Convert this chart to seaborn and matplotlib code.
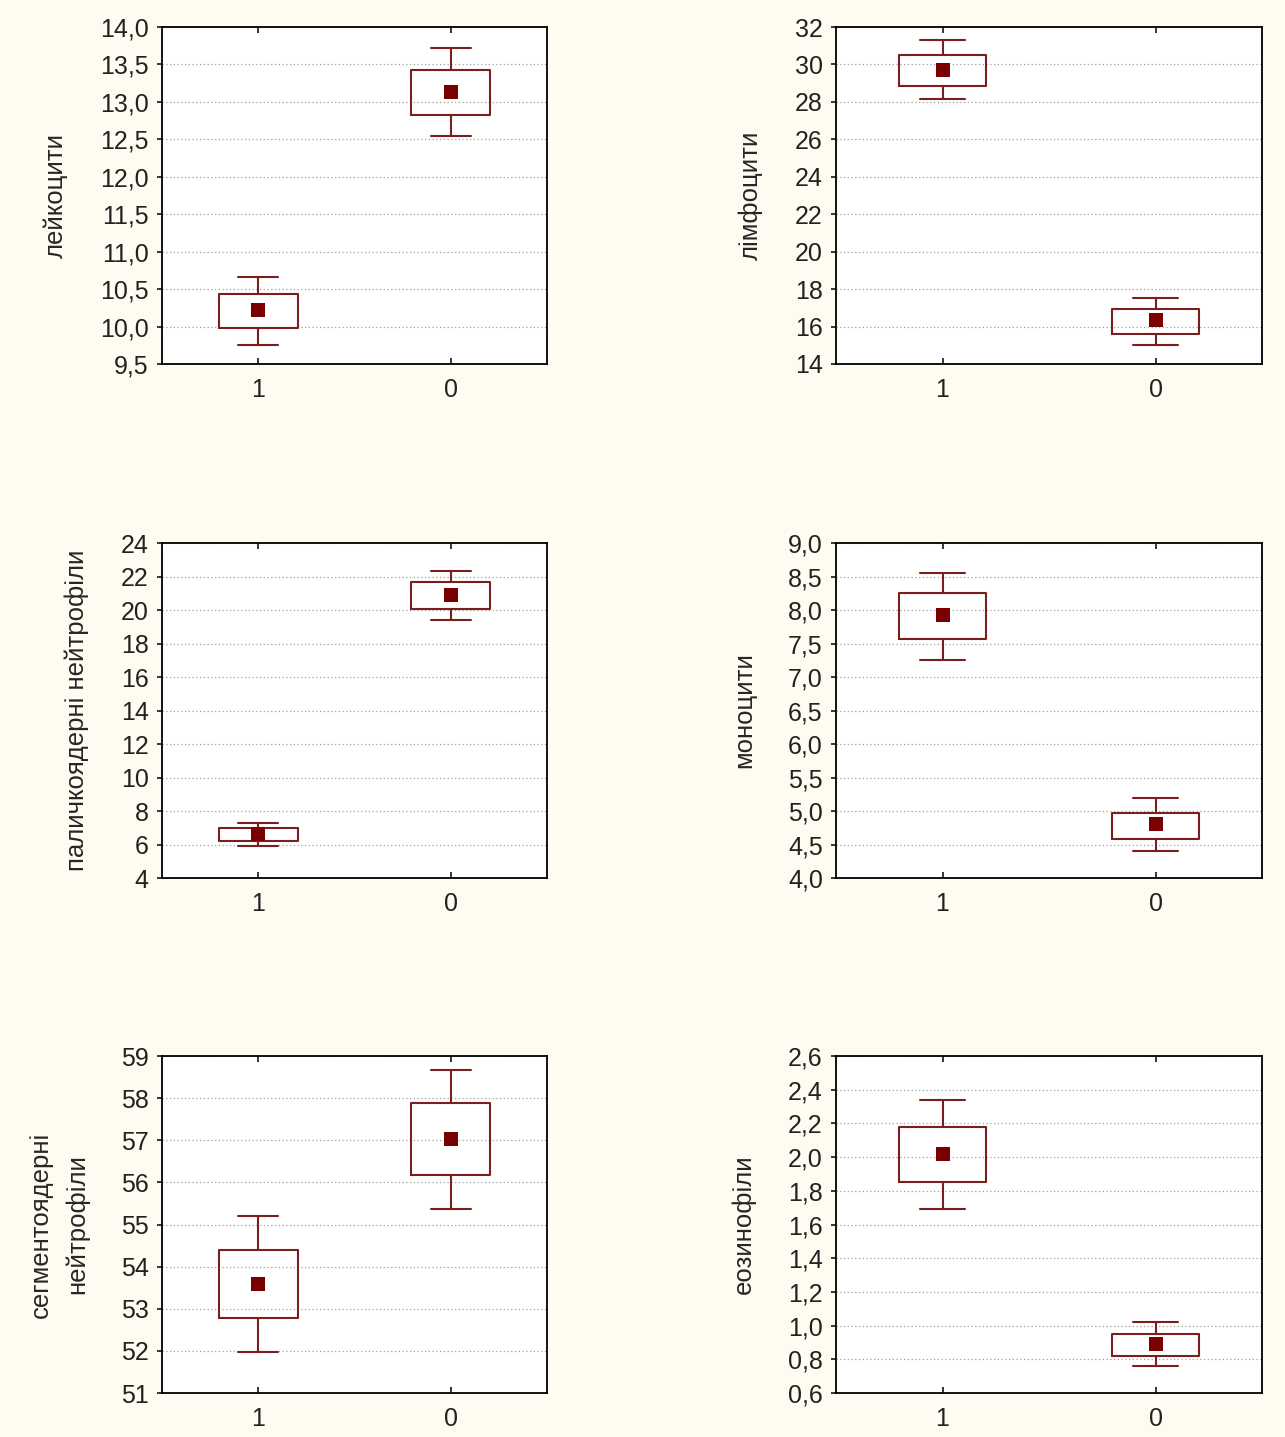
import matplotlib
matplotlib.use("Agg")
import matplotlib.pyplot as plt
from matplotlib.ticker import FixedLocator, FixedFormatter
import pandas as pd
import seaborn as sns

# ---- data: mean, mean±SE (box), mean±1.96·SE (whiskers) for groups "1" and "0" ----
groups = ["1", "0"]

leu_label = "лейкоцити"
leu_mean = [10.22, 13.13]
leu_box_lo = [9.98, 12.82]
leu_box_hi = [10.43, 13.42]
leu_whis_lo = [9.75, 12.54]
leu_whis_hi = [10.66, 13.72]
leu_ticks = [9.5, 10.0, 10.5, 11.0, 11.5, 12.0, 12.5, 13.0, 13.5, 14.0]
leu_ticklabels = ["9,5", "10,0", "10,5", "11,0", "11,5", "12,0", "12,5", "13,0", "13,5", "14,0"]

lym_label = "лімфоцити"
lym_mean = [29.70, 16.35]
lym_box_lo = [28.87, 15.62]
lym_box_hi = [30.49, 16.92]
lym_whis_lo = [28.17, 15.01]
lym_whis_hi = [31.29, 17.52]
lym_ticks = [14, 16, 18, 20, 22, 24, 26, 28, 30, 32]
lym_ticklabels = ["14", "16", "18", "20", "22", "24", "26", "28", "30", "32"]

band_label = "паличкоядерні нейтрофіли"
band_mean = [6.61, 20.91]
band_box_lo = [6.23, 20.06]
band_box_hi = [6.97, 21.67]
band_whis_lo = [5.93, 19.42]
band_whis_hi = [7.26, 22.33]
band_ticks = [4, 6, 8, 10, 12, 14, 16, 18, 20, 22, 24]
band_ticklabels = ["4", "6", "8", "10", "12", "14", "16", "18", "20", "22", "24"]

mono_label = "моноцити"
mono_mean = [7.92, 4.80]
mono_box_lo = [7.57, 4.58]
mono_box_hi = [8.25, 4.97]
mono_whis_lo = [7.26, 4.41]
mono_whis_hi = [8.56, 5.19]
mono_ticks = [4.0, 4.5, 5.0, 5.5, 6.0, 6.5, 7.0, 7.5, 8.0, 8.5, 9.0]
mono_ticklabels = ["4,0", "4,5", "5,0", "5,5", "6,0", "6,5", "7,0", "7,5", "8,0", "8,5", "9,0"]

seg_label = "сегментоядерні\nнейтрофіли"
seg_mean = [53.60, 57.03]
seg_box_lo = [52.79, 56.17]
seg_box_hi = [54.39, 57.88]
seg_whis_lo = [51.98, 55.37]
seg_whis_hi = [55.20, 58.67]
seg_ticks = [51, 52, 53, 54, 55, 56, 57, 58, 59]
seg_ticklabels = ["51", "52", "53", "54", "55", "56", "57", "58", "59"]

eos_label = "еозинофіли"
eos_mean = [2.02, 0.89]
eos_box_lo = [1.85, 0.82]
eos_box_hi = [2.18, 0.95]
eos_whis_lo = [1.69, 0.76]
eos_whis_hi = [2.34, 1.02]
eos_ticks = [0.6, 0.8, 1.0, 1.2, 1.4, 1.6, 1.8, 2.0, 2.2, 2.4, 2.6]
eos_ticklabels = ["0,6", "0,8", "1,0", "1,2", "1,4", "1,6", "1,8", "2,0", "2,2", "2,4", "2,6"]

# ---- style ----
BG = "#FEFBF0"
EDGE = "#7A1E1E"
MARK = "#7A0000"
TICK_FS = 18
LABEL_FS = 18.5

sns.set_style("white")
plt.rcParams["font.family"] = ["Liberation Sans", "DejaVu Sans"]
plt.rcParams["font.size"] = TICK_FS

fig = plt.figure(figsize=(12.85, 14.37), dpi=100, facecolor=BG)

col_left = [0.1261, 0.6506]
col_width = [0.2996, 0.3315]
row_bottom = [0.7467, 0.3890, 0.0306]
row_height = [0.2345, 0.2331, 0.2345]

panels = [
    (leu_label, leu_mean, leu_box_lo, leu_box_hi, leu_whis_lo, leu_whis_hi, leu_ticks, leu_ticklabels),
    (lym_label, lym_mean, lym_box_lo, lym_box_hi, lym_whis_lo, lym_whis_hi, lym_ticks, lym_ticklabels),
    (band_label, band_mean, band_box_lo, band_box_hi, band_whis_lo, band_whis_hi, band_ticks, band_ticklabels),
    (mono_label, mono_mean, mono_box_lo, mono_box_hi, mono_whis_lo, mono_whis_hi, mono_ticks, mono_ticklabels),
    (seg_label, seg_mean, seg_box_lo, seg_box_hi, seg_whis_lo, seg_whis_hi, seg_ticks, seg_ticklabels),
    (eos_label, eos_mean, eos_box_lo, eos_box_hi, eos_whis_lo, eos_whis_hi, eos_ticks, eos_ticklabels),
]


def draw_panel(ax, label, mean, box_lo, box_hi, whis_lo, whis_hi, ticks, ticklabels):
    ax.set_facecolor("white")
    df = pd.DataFrame({"group": groups, "value": mean})
    # group means as filled squares on a categorical x axis
    sns.scatterplot(data=df, x="group", y="value", marker="s", s=105,
                    color=MARK, edgecolor=MARK, linewidth=0, zorder=5,
                    legend=False, ax=ax)
    # box = mean ± SE, whiskers = mean ± 1.96·SE
    stats = [
        dict(med=m, q1=lo, q3=hi, whislo=wl, whishi=wh, fliers=[], label=g)
        for g, m, lo, hi, wl, wh in zip(groups, mean, box_lo, box_hi, whis_lo, whis_hi)
    ]
    line = dict(color=EDGE, linewidth=1.5)
    ax.bxp(stats, positions=[0, 1], widths=0.41, capwidths=0.21,
           showfliers=False, manage_ticks=False, patch_artist=False,
           boxprops=line, whiskerprops=line, capprops=line,
           medianprops=dict(linewidth=0), zorder=3)

    ax.set_xlim(-0.5, 1.5)
    ax.set_xticks([0, 1])
    ax.set_xticklabels(groups)
    ax.set_ylim(ticks[0], ticks[-1])
    ax.yaxis.set_major_locator(FixedLocator(ticks))
    ax.yaxis.set_major_formatter(FixedFormatter(ticklabels))

    ax.set_xlabel("")
    ax.set_ylabel(label, fontsize=LABEL_FS, labelpad=23, linespacing=1.6)
    ax.yaxis.grid(True, linestyle=(0, (1, 2)), color="#A0A0A0", linewidth=0.9)
    ax.xaxis.grid(False)
    ax.set_axisbelow(True)

    for sp in ax.spines.values():
        sp.set_visible(True)
        sp.set_color("black")
        sp.set_linewidth(1.3)

    ax.tick_params(axis="y", which="major", left=True, right=False, direction="out",
                   length=3.5, width=1.1, pad=6, labelsize=TICK_FS, colors="black")
    ax.tick_params(axis="x", which="major", bottom=True, top=True, direction="in",
                   length=4, width=1.1, pad=10, labelsize=TICK_FS, colors="black")
    for t in ax.get_xticklabels() + ax.get_yticklabels():
        t.set_color("#222222")


for i, p in enumerate(panels):
    r, c = divmod(i, 2)
    ax = fig.add_axes([col_left[c], row_bottom[r], col_width[c], row_height[r]])
    draw_panel(ax, *p)

fig.savefig("out.png", dpi=100, facecolor=BG)
